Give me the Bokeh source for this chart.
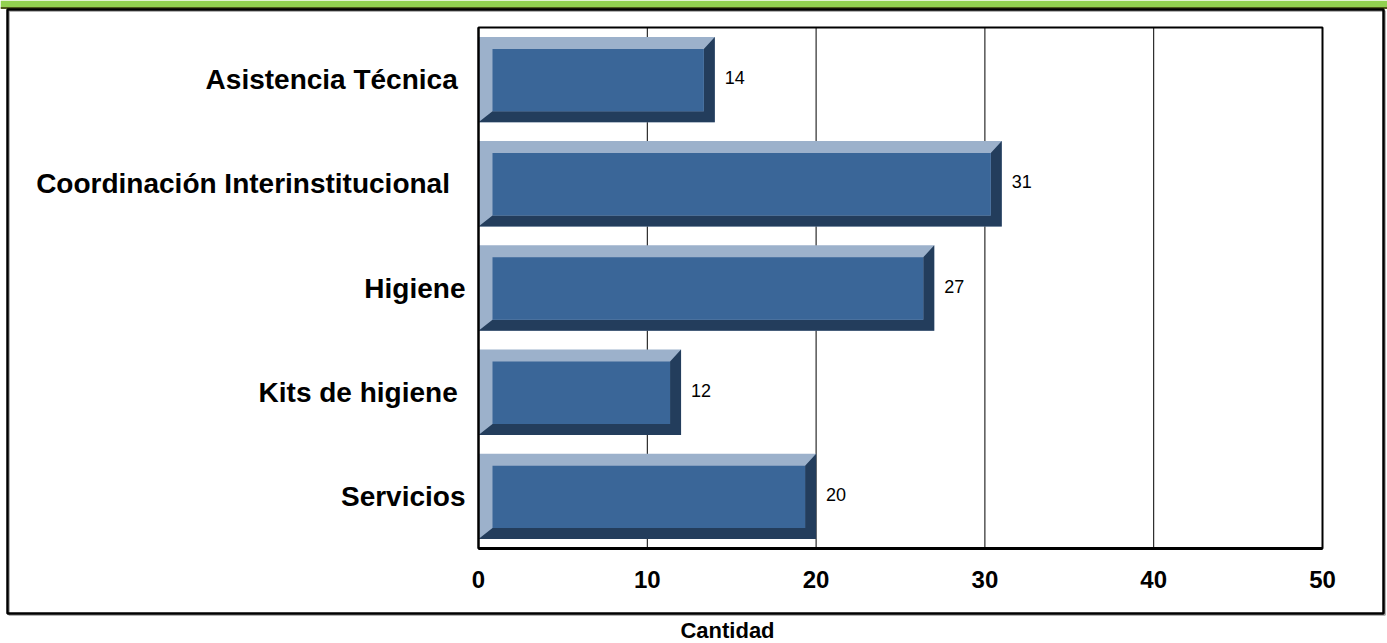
from bokeh.plotting import figure
from bokeh.models import Range1d, FixedTicker, LinearAxis, ColumnDataSource
from bokeh.embed import file_html
from bokeh.resources import INLINE
from bokeh.core.properties import value

# ---- data ----
categories = ["Asistencia Técnica ", "Coordinación Interinstitucional  ", "Higiene",
              "Kits de higiene ", "Servicios"]
counts = [14, 31, 27, 12, 20]
x_ticks = [0, 10, 20, 30, 40, 50]
x_title = "Cantidad"

# ---- layout constants (pixels) ----
W, H = 1387, 643
PLOT_L, PLOT_R, PLOT_T, PLOT_B = 478, 1322, 27, 548
BOX_L, BOX_R, BOX_T, BOX_B = 7, 1383, 9, 613
BANNER_B = 7
TITLE_X, TITLE_Y = 727, 630
X_MAX = 50
N = len(categories)
PX_X = (PLOT_R - PLOT_L) / X_MAX
PX_Y = (PLOT_B - PLOT_T) / N
BAR_H = 0.82
BEV_L, BEV_R, BEV_T, BEV_B = 14 / PX_X, 11 / PX_X, 12 / PX_Y, 11 / PX_Y


def dx(px):
    return (px - PLOT_L) / PX_X


def dy(py):
    return (N + 0.5) - (py - PLOT_T) / PX_Y


LIGHT = "#9cb1cb"
FACE = "#3a6698"
DARK = "#233d5c"
GREEN = "#92d050"
OLIVE = "#4f5a1c"
FONT = "Liberation Sans"

ypos = [N - i for i in range(N)]

p = figure(width=W, height=H, output_backend="svg", toolbar_location=None,
           x_range=Range1d(dx(0), dx(W)), y_range=Range1d(dy(H), dy(0)),
           x_axis_location=None, y_axis_location=None,
           min_border=0, min_border_left=0, min_border_right=0,
           min_border_top=0, min_border_bottom=0)
p.background_fill_color = "white"
p.border_fill_color = "white"
p.outline_line_color = None
p.grid.visible = False

# banner at the top
p.quad(left=dx(0), right=dx(W), top=dy(0), bottom=dy(BANNER_B),
       fill_color=GREEN, line_color=None)
p.segment(x0=dx(0), x1=dx(W), y0=dy(BANNER_B + 0.5), y1=dy(BANNER_B + 0.5),
          line_color=OLIVE, line_width=2)

# outer chart box (with a faint shadow)
p.quad(left=dx(BOX_L + 1.5), right=dx(BOX_R + 1.5), top=dy(BOX_T + 1.5), bottom=dy(BOX_B + 1.5),
       fill_color=None, line_color="#9a9a9a", line_width=1.5)
p.quad(left=dx(BOX_L), right=dx(BOX_R), top=dy(BOX_T), bottom=dy(BOX_B),
       fill_color=None, line_color="black", line_width=2.5)

# vertical grid lines inside the plot area
p.segment(x0=x_ticks[1:-1], x1=x_ticks[1:-1], y0=0.5, y1=N + 0.5,
          line_color="black", line_width=1)

# bars: light base
src = ColumnDataSource(dict(y=ypos, v=counts, lbl=[str(c) for c in counts]))
p.hbar(y="y", left=0, right="v", height=BAR_H, source=src, fill_color=LIGHT, line_color=None)

# dark bevel (bottom + right) and face
xs, ys = [], []
fx0, fx1, fy0, fy1 = [], [], [], []
for y, v in zip(ypos, counts):
    b = y - BAR_H / 2
    t = y + BAR_H / 2
    xs.append([0, v, v, v - BEV_R, v - BEV_R, BEV_L])
    ys.append([b, b, t, t - BEV_T, b + BEV_B, b + BEV_B])
    fx0.append(BEV_L)
    fx1.append(v - BEV_R)
    fy0.append(b + BEV_B)
    fy1.append(t - BEV_T)
p.patches(xs, ys, fill_color=DARK, line_color=None)
p.quad(left=fx0, right=fx1, bottom=fy0, top=fy1, fill_color=FACE, line_color=None)

# plot-area border
p.quad(left=0, right=X_MAX, bottom=0.5, top=N + 0.5, fill_color=None,
       line_color="black", line_width=2)

# value labels
p.text(x="v", y="y", text="lbl", source=src, x_offset=10, y_offset=-2,
       text_font=value(FONT), text_font_size="18px", text_color="black",
       text_baseline="middle", text_align="left")

# axis title
p.text(x=[dx(TITLE_X)], y=[dy(TITLE_Y)], text=[x_title],
       text_font=value(FONT), text_font_style="bold", text_font_size="22px",
       text_color="black", text_baseline="middle", text_align="center")

# axes fixed on the plot area
xaxis = LinearAxis(fixed_location=0.5, bounds=(0, X_MAX), ticker=FixedTicker(ticks=x_ticks))
xaxis.axis_line_color = "black"
xaxis.axis_line_width = 3
xaxis.major_tick_line_color = None
xaxis.minor_tick_line_color = None
xaxis.major_tick_out = 0
xaxis.major_tick_in = 0
xaxis.major_label_standoff = 22
xaxis.major_label_text_font = FONT
xaxis.major_label_text_font_style = "bold"
xaxis.major_label_text_font_size = "24px"
xaxis.major_label_text_color = "black"
p.add_layout(xaxis, "below")

yaxis = LinearAxis(fixed_location=0, bounds=(0.5, N + 0.5), ticker=FixedTicker(ticks=ypos))
yaxis.major_label_overrides = {y: c for y, c in zip(ypos, categories)}
yaxis.axis_line_color = "black"
yaxis.axis_line_width = 2
yaxis.major_tick_line_color = None
yaxis.minor_tick_line_color = None
yaxis.major_tick_out = 0
yaxis.major_tick_in = 0
yaxis.major_label_standoff = 13
yaxis.major_label_text_font = FONT
yaxis.major_label_text_font_style = "bold"
yaxis.major_label_text_font_size = "28px"
yaxis.major_label_text_color = "black"
p.add_layout(yaxis, "left")

open("out.html", "w").write(file_html(p, INLINE))
